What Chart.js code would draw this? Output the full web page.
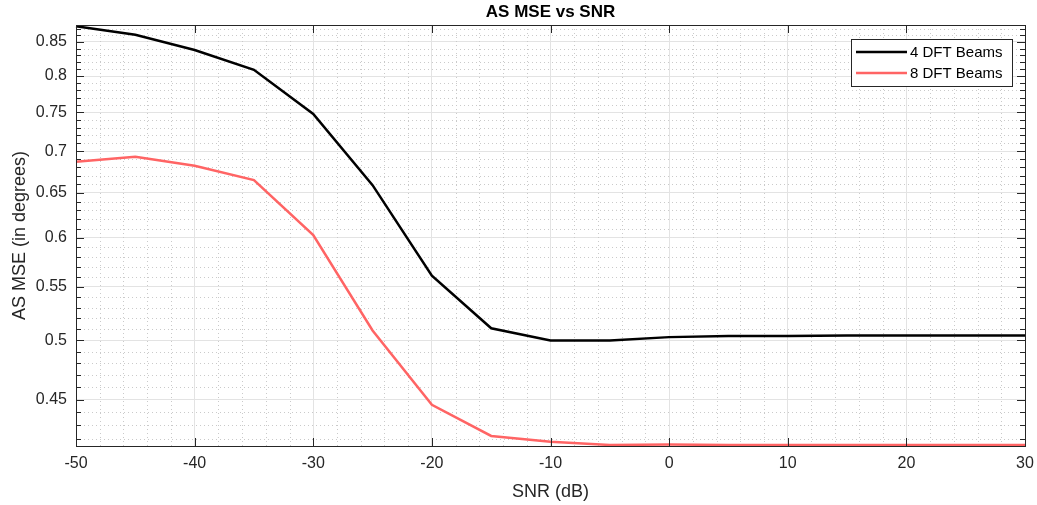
<!DOCTYPE html>
<html>
<head>
<meta charset="utf-8">
<script src="https://cdn.jsdelivr.net/npm/chart.js@4/dist/chart.umd.min.js"></script>
<style>
  html, body { margin: 0; padding: 0; background: #fff; }
  #wrap { width: 1037px; height: 505px; }
</style>
</head>
<body>
<div id="wrap"><canvas id="mse"></canvas></div>
<script>
// ---- data ----
const snr = [-50, -45, -40, -35, -30, -25, -20, -15, -10, -5, 0, 5, 10, 15, 20, 25, 30];
const mse4 = [0.874, 0.861, 0.838, 0.809, 0.748, 0.659, 0.561, 0.511, 0.500, 0.500, 0.503, 0.504, 0.504, 0.5045, 0.5045, 0.5045, 0.5045];
const mse8 = [0.687, 0.693, 0.682, 0.665, 0.603, 0.509, 0.446, 0.422, 0.4176, 0.4152, 0.4156, 0.4152, 0.4152, 0.4152, 0.4152, 0.4152, 0.4152];
const seriesNames = ['4 DFT Beams', '8 DFT Beams'];
const seriesColors = ['#000000', '#ff6464'];
const xTicks = [-50, -40, -30, -20, -10, 0, 10, 20, 30];
const yTicks = [0.45, 0.5, 0.55, 0.6, 0.65, 0.7, 0.75, 0.8, 0.85];
const yMinor = [0.42, 0.43, 0.44, 0.45, 0.46, 0.47, 0.48, 0.49, 0.5, 0.51, 0.52, 0.53, 0.54, 0.55, 0.56, 0.57, 0.58, 0.59,
  0.6, 0.61, 0.62, 0.63, 0.64, 0.65, 0.66, 0.67, 0.68, 0.69, 0.7, 0.71, 0.72, 0.73, 0.74, 0.75, 0.76, 0.77, 0.78, 0.79,
  0.8, 0.81, 0.82, 0.83, 0.84, 0.85, 0.86, 0.87];
const xMinor = [-48, -46, -44, -42, -38, -36, -34, -32, -28, -26, -24, -22, -18, -16, -14, -12, -8, -6, -4, -2,
  2, 4, 6, 8, 12, 14, 16, 18, 22, 24, 26, 28];

const FONT = "'Liberation Sans', Arial, Helvetica, sans-serif";
const TXT = '#262626';

const points = (ys) => snr.map((x, i) => ({ x, y: ys[i] }));
const isMajorY = (v) => yTicks.some(t => Math.abs(t - v) < 1e-9);

// MATLAB-like furniture: dotted minor grid, box, inward ticks, title, legend
const matlabAxes = {
  id: 'matlabAxes',
  beforeDatasetsDraw(chart) {
    const { ctx, chartArea: a, scales: { x, y } } = chart;
    ctx.save();
    ctx.strokeStyle = '#cacaca';
    ctx.lineWidth = 1;
    ctx.setLineDash([1, 3]);
    xMinor.forEach(v => {
      const px = Math.round(x.getPixelForValue(v)) + 0.5;
      ctx.beginPath(); ctx.moveTo(px, a.top); ctx.lineTo(px, a.bottom); ctx.stroke();
    });
    yMinor.forEach(v => {
      if (isMajorY(v)) return;
      const py = Math.round(y.getPixelForValue(v)) + 0.5;
      ctx.beginPath(); ctx.moveTo(a.left, py); ctx.lineTo(a.right, py); ctx.stroke();
    });
    ctx.restore();
  },
  afterDatasetsDraw(chart) {
    const { ctx, chartArea: a, scales: { x, y } } = chart;
    ctx.save();
    ctx.strokeStyle = '#262626';
    ctx.lineWidth = 1;
    ctx.setLineDash([]);
    ctx.strokeRect(a.left + 0.5, a.top + 0.5, a.right - a.left, a.bottom - a.top);
    ctx.beginPath();
    xTicks.forEach(v => {
      const px = Math.round(x.getPixelForValue(v)) + 0.5;
      ctx.moveTo(px, a.bottom); ctx.lineTo(px, a.bottom - 8);
      ctx.moveTo(px, a.top); ctx.lineTo(px, a.top + 8);
    });
    yMinor.forEach(v => {
      const len = isMajorY(v) ? 8 : 5;
      const py = Math.round(y.getPixelForValue(v)) + 0.5;
      ctx.moveTo(a.left, py); ctx.lineTo(a.left + len, py);
      ctx.moveTo(a.right, py); ctx.lineTo(a.right - len, py);
    });
    ctx.stroke();
    ctx.restore();
  },
  afterDraw(chart) {
    const { ctx, chartArea: a } = chart;
    ctx.save();
    // title
    ctx.fillStyle = '#000';
    ctx.font = `bold 17px ${FONT}`;
    ctx.textAlign = 'center';
    ctx.textBaseline = 'middle';
    ctx.fillText('AS MSE vs SNR', (a.left + a.right) / 2, 12);
    // legend
    const bx = 851, by = 39, bw = 161, bh = 47;
    ctx.fillStyle = '#fff';
    ctx.fillRect(bx, by, bw, bh);
    ctx.strokeStyle = '#262626';
    ctx.lineWidth = 1;
    ctx.strokeRect(bx + 0.5, by + 0.5, bw, bh);
    ctx.font = `15px ${FONT}`;
    ctx.textAlign = 'left';
    chart.data.datasets.forEach((ds, i) => {
      const ry = by + 13 + i * 21;
      ctx.strokeStyle = ds.borderColor;
      ctx.lineWidth = 2.5;
      ctx.beginPath(); ctx.moveTo(bx + 5, ry); ctx.lineTo(bx + 56, ry); ctx.stroke();
      ctx.fillStyle = '#000';
      ctx.fillText(ds.label, bx + 59, ry + 1);
    });
    ctx.restore();
  }
};

new Chart(document.getElementById('mse'), {
  type: 'line',
  data: {
    datasets: [
      { label: seriesNames[0], data: points(mse4), borderColor: seriesColors[0], borderWidth: 2.5, pointRadius: 0, tension: 0, clip: 2 },
      { label: seriesNames[1], data: points(mse8), borderColor: seriesColors[1], borderWidth: 2.5, pointRadius: 0, tension: 0, clip: 2 },
    ],
  },
  options: {
    responsive: true,
    maintainAspectRatio: false,
    animation: false,
    layout: { padding: { top: 25, right: 12, bottom: 0, left: 0 } },
    plugins: { legend: { display: false }, title: { display: false }, tooltip: { enabled: false } },
    scales: {
      x: {
        type: 'linear',
        min: -50,
        max: 30,
        afterBuildTicks: (s) => { s.ticks = xTicks.map(v => ({ value: v })); },
        afterFit: (s) => { s.height = 59; s.paddingLeft = 0; s.paddingRight = 0; },
        grid: { color: '#e3e3e3', drawTicks: false },
        border: { display: false },
        ticks: { color: TXT, font: { family: FONT, size: 16 }, padding: 8, maxRotation: 0 },
        title: { display: true, text: 'SNR (dB)', color: TXT, font: { family: FONT, size: 18 }, padding: { top: 0, bottom: 2 } },
      },
      y: {
        type: 'logarithmic',
        min: 0.4145,
        max: 0.876,
        afterBuildTicks: (s) => { s.ticks = yTicks.map(v => ({ value: v })); },
        afterFit: (s) => { s.width = 76; },
        grid: { color: '#e3e3e3', drawTicks: false },
        border: { display: false },
        ticks: { color: TXT, font: { family: FONT, size: 16 }, padding: 9, callback: (v) => String(v) },
        title: { display: true, text: 'AS MSE (in degrees)', color: TXT, font: { family: FONT, size: 18 }, padding: { top: 9, bottom: 0 } },
      },
    },
  },
  plugins: [matlabAxes],
});
</script>
</body>
</html>
